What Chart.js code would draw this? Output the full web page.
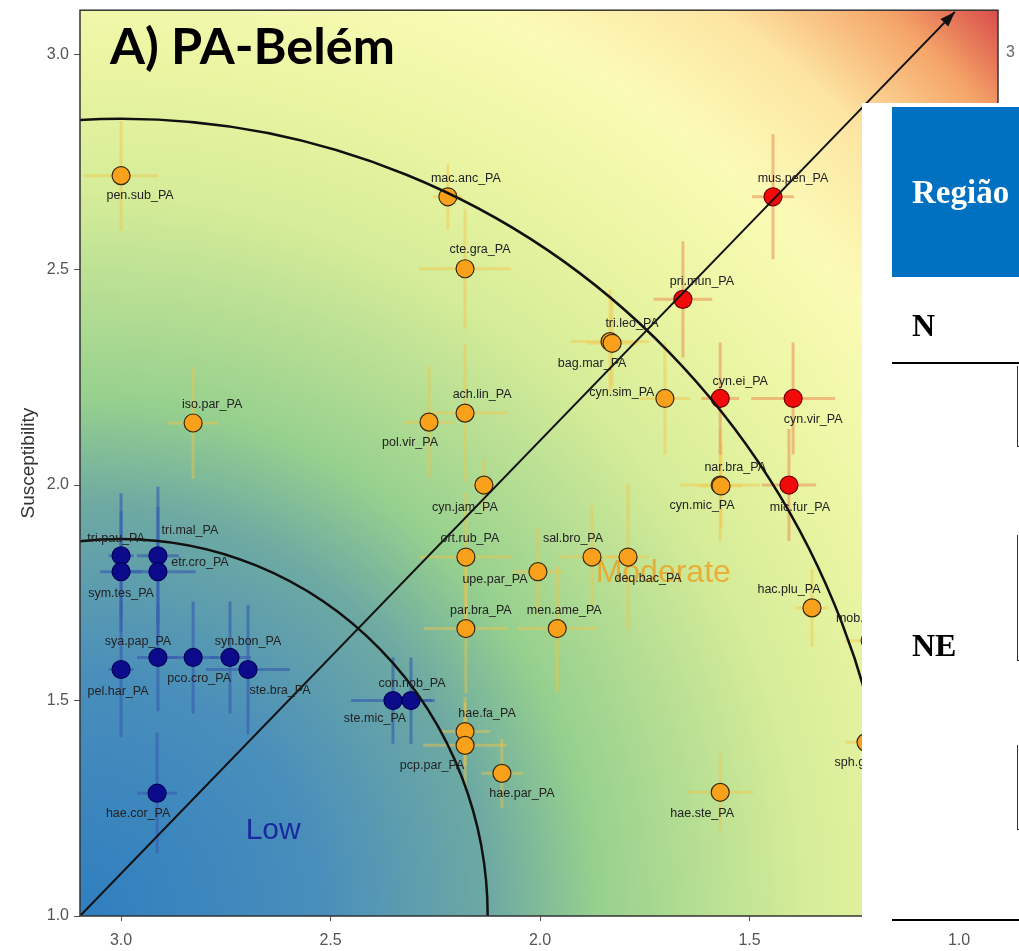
<!DOCTYPE html>
<html lang="pt">
<head>
<meta charset="UTF-8">
<title>A) PA-Belém</title>
<script src="https://cdn.jsdelivr.net/npm/chart.js@4"></script>
<style>
  body { margin: 0; background: #fff; }
  .wrap { position: relative; width: 1019px; height: 951px; overflow: hidden; }
  .tabela { position: absolute; left: 862px; top: 103px; width: 157px; height: 822px; background: #fff;
            font-family: "Liberation Serif", "Times New Roman", serif; font-weight: bold; color: #000; }
  .cab { position: absolute; left: 30px; top: 4px; width: 127px; height: 170px; background: #0070c0; color: #fff;
         font-size: 33px; line-height: 170px; padding-left: 20px; box-sizing: border-box; white-space: nowrap; }
  .cel { position: absolute; left: 50px; font-size: 32px; line-height: 32px; }
  .linha { position: absolute; left: 30px; width: 127px; height: 2px; background: #000; }
  .borda { position: absolute; left: 155px; width: 2px; border-left: 1.5px solid #333; border-bottom: 1.5px solid #333; }
  .resto { position: absolute; left: 1006px; top: 43px; font: 16px "Liberation Sans", Arial, sans-serif; color: #666; }
</style>
</head>
<body>
<div class="wrap">
  <canvas id="psa" width="1019" height="951"></canvas>
  <span class="resto">3</span>
  <div class="tabela">
    <div class="cab">Região</div>
    <div class="cel" style="top:206px">N</div>
    <div class="linha" style="top:259px"></div>
    <div class="borda" style="top:263px;height:80px"></div>
    <div class="borda" style="top:432px;height:125px"></div>
    <div class="borda" style="top:642px;height:84px"></div>
    <div class="cel" style="top:526px">NE</div>
    <div class="linha" style="top:816px"></div>
  </div>
</div>
<script>
// species, productivity (x, reversed axis), susceptibility (y), error half-widths, risk class
const especies = [
  'pen.sub_PA', 'mac.anc_PA', 'cte.gra_PA', 'tri.leo_PA', 'bag.mar_PA', 'cyn.sim_PA', 'ach.lin_PA',
  'pol.vir_PA', 'iso.par_PA', 'cyn.jam_PA', 'nar.bra_PA', 'cyn.mic_PA', 'ort.rub_PA', 'upe.par_PA',
  'sal.bro_PA', 'deq.bac_PA', 'par.bra_PA', 'men.ame_PA', 'hac.plu_PA', 'mob.bra_PA', 'sph.gui_PA',
  'hae.fa_PA', 'pcp.par_PA', 'hae.par_PA', 'hae.ste_PA',
  'mus.pen_PA', 'pri.mun_PA', 'cyn.ei_PA', 'cyn.vir_PA', 'mic.fur_PA',
  'tri.pau_PA', 'sym.tes_PA', 'tri.mal_PA', 'etr.cro_PA', 'sya.pap_PA', 'pel.har_PA', 'pco.cro_PA',
  'syn.bon_PA', 'ste.bra_PA', 'con.nob_PA', 'ste.mic_PA', 'hae.cor_PA'
];
const produtividade = [
  3.000, 2.220, 2.179, 1.833, 1.828, 1.702, 2.179,
  2.265, 2.828, 2.134, 1.570, 1.568, 2.177, 2.005,
  1.876, 1.790, 2.177, 1.959, 1.351, 1.212, 1.222,
  2.179, 2.179, 2.091, 1.570,
  1.444, 1.659, 1.570, 1.396, 1.406,
  3.000, 3.000, 2.912, 2.912, 2.912, 3.000, 2.828,
  2.740, 2.697, 2.308, 2.351, 2.914
];
const suscetibilidade = [
  2.718, 2.669, 2.502, 2.333, 2.329, 2.201, 2.167,
  2.146, 2.144, 2.000, 2.000, 1.998, 1.833, 1.799,
  1.833, 1.833, 1.667, 1.667, 1.715, 1.639, 1.403,
  1.428, 1.396, 1.331, 1.287,
  2.669, 2.431, 2.201, 2.201, 2.000,
  1.836, 1.799, 1.836, 1.799, 1.600, 1.572, 1.600,
  1.600, 1.572, 1.500, 1.500, 1.285
];
const erroProd = [
  0.088, 0.035, 0.110, 0.093, 0.060, 0.060, 0.100,
  0.060, 0.060, 0.030, 0.095, 0.050, 0.110, 0.060,
  0.080, 0.050, 0.100, 0.095, 0.040, 0.060, 0.050,
  0.060, 0.100, 0.050, 0.080,
  0.050, 0.070, 0.045, 0.100, 0.065,
  0.030, 0.050, 0.050, 0.090, 0.050, 0.030, 0.060,
  0.050, 0.100, 0.050, 0.100, 0.048
];
const erroSusc = [
  0.127, 0.075, 0.139, 0.120, 0.100, 0.130, 0.160,
  0.130, 0.130, 0.060, 0.130, 0.100, 0.150, 0.100,
  0.120, 0.170, 0.150, 0.145, 0.090, 0.100, 0.060,
  0.080, 0.100, 0.080, 0.090,
  0.145, 0.135, 0.130, 0.130, 0.130,
  0.145, 0.140, 0.160, 0.150, 0.125, 0.157, 0.130,
  0.130, 0.150, 0.100, 0.100, 0.140
];
const risco = [
  'M','M','M','M','M','M','M','M','M','M','M','M','M','M','M','M','M','M','M','M','M','M','M','M','M',
  'H','H','H','H','H',
  'L','L','L','L','L','L','L','L','L','L','L','L'
];
const xTicks = [1.0, 1.5, 2.0, 2.5, 3.0];
const yTicks = [1.0, 1.5, 2.0, 2.5, 3.0];

// label nudges in px (layout only)
const rotuloDx = [19,18,15,22,-20,-43,17,-19,19,-19,15,-19,4,-43,-19,20,15,7,-23,0,0,22,-33,20,-18,
                  20,19,20,20,11, -5,0,32,42,-20,-3,6,18,32,1,-18,-19];
const rotuloDy = [20,-18,-19,-18,20,-6,-19,20,-18,22,-18,20,-18,8,-18,22,-18,-18,-18,-22,20,-18,20,20,21,
                  -18,-18,-17,21,22, -17,22,-25,-9,-16,22,21,-16,21,-17,18,20];

const estilo = {
  L: { fill: '#0b0b8c', border: '#000058', bar: 'rgba(55,95,175,0.65)' },
  M: { fill: '#f9a11b', border: '#3a2a10', bar: 'rgba(245,195,70,0.45)' },
  H: { fill: '#f00a0a', border: '#700000', bar: 'rgba(235,150,90,0.6)' }
};

function serie(cls) {
  const pts = [];
  especies.forEach((s, i) => {
    if (risco[i] === cls) pts.push({ x: produtividade[i], y: suscetibilidade[i] });
  });
  return {
    data: pts, pointRadius: 9, pointHoverRadius: 9, borderWidth: 1.2,
    backgroundColor: estilo[cls].fill, borderColor: estilo[cls].border, showLine: false
  };
}

const gradStops = [
  [0, '#2f7ec0'], [0.19, '#4a8fbb'], [0.32, '#6eaaa2'], [0.40, '#96d08e'], [0.56, '#d5ec98'],
  [0.66, '#eaf5a2'], [0.77, '#fbfbb6'], [0.86, '#fde4a2'], [0.94, '#f5a468'], [1, '#d84c4a']
];

const fundo = {
  id: 'fundo',
  beforeDatasetsDraw(chart) {
    const { ctx, chartArea: a, scales: { x, y } } = chart;
    ctx.save();
    const R = Math.hypot(a.right - a.left, a.bottom - a.top);
    const g = ctx.createRadialGradient(a.left, a.bottom, 0, a.left, a.bottom, R);
    gradStops.forEach(s => g.addColorStop(s[0], s[1]));
    ctx.fillStyle = g;
    ctx.fillRect(a.left, a.top, a.right - a.left, a.bottom - a.top);

    ctx.beginPath();
    ctx.rect(a.left, a.top, a.right - a.left, a.bottom - a.top);
    ctx.clip();
    // error bars
    ctx.lineWidth = 3;
    especies.forEach((s, i) => {
      const px = x.getPixelForValue(produtividade[i]);
      const py = y.getPixelForValue(suscetibilidade[i]);
      ctx.strokeStyle = estilo[risco[i]].bar;
      ctx.beginPath();
      ctx.moveTo(x.getPixelForValue(produtividade[i] + erroProd[i]), py);
      ctx.lineTo(x.getPixelForValue(produtividade[i] - erroProd[i]), py);
      ctx.moveTo(px, y.getPixelForValue(suscetibilidade[i] + erroSusc[i]));
      ctx.lineTo(px, y.getPixelForValue(suscetibilidade[i] - erroSusc[i]));
      ctx.stroke();
    });
    // zone names
    ctx.textAlign = 'center';
    ctx.textBaseline = 'middle';
    ctx.font = '32px "Liberation Sans", Arial, sans-serif';
    ctx.fillStyle = 'rgba(238,160,30,0.8)';
    ctx.fillText('Moderate', x.getPixelForValue(1.706), y.getPixelForValue(1.796));
    ctx.font = '30px "Liberation Sans", Arial, sans-serif';
    ctx.fillStyle = '#1a2a9e';
    ctx.fillText('Low', x.getPixelForValue(2.637), y.getPixelForValue(1.199));
    ctx.restore();
  },
  afterDatasetsDraw(chart) {
    const { ctx, chartArea: a, scales: { x, y } } = chart;
    ctx.save();
    ctx.beginPath();
    ctx.rect(a.left, a.top, a.right - a.left, a.bottom - a.top);
    ctx.clip();
    // risk arcs centred on (3, 1)
    const cx = x.getPixelForValue(3), cy = y.getPixelForValue(1);
    ctx.strokeStyle = '#111';
    ctx.lineWidth = 2.5;
    [0.875, 1.85].forEach(r => {
      ctx.beginPath();
      ctx.ellipse(cx, cy, Math.abs(x.getPixelForValue(3 - r) - cx), Math.abs(y.getPixelForValue(1 + r) - cy), 0, 0, Math.PI * 2);
      ctx.stroke();
    });
    // diagonal arrow
    const x0 = x.getPixelForValue(3.098), y0 = y.getPixelForValue(1.0);
    const x1 = x.getPixelForValue(1.01), y1 = y.getPixelForValue(3.098);
    ctx.lineWidth = 2;
    ctx.beginPath(); ctx.moveTo(x0, y0); ctx.lineTo(x1, y1); ctx.stroke();
    const ang = Math.atan2(y1 - y0, x1 - x0);
    ctx.fillStyle = '#111';
    ctx.beginPath();
    ctx.moveTo(x1, y1);
    ctx.lineTo(x1 - 16 * Math.cos(ang - 0.35), y1 - 16 * Math.sin(ang - 0.35));
    ctx.lineTo(x1 - 16 * Math.cos(ang + 0.35), y1 - 16 * Math.sin(ang + 0.35));
    ctx.closePath(); ctx.fill();
    // point labels
    ctx.font = '12.5px "Liberation Sans", Arial, sans-serif';
    ctx.fillStyle = '#222';
    ctx.textAlign = 'center';
    ctx.textBaseline = 'middle';
    especies.forEach((s, i) => {
      ctx.fillText(s, x.getPixelForValue(produtividade[i]) + rotuloDx[i], y.getPixelForValue(suscetibilidade[i]) + rotuloDy[i]);
    });
    ctx.restore();
    // panel frame
    ctx.save();
    ctx.strokeStyle = '#333';
    ctx.lineWidth = 1.5;
    ctx.strokeRect(a.left, a.top, a.right - a.left, a.bottom - a.top);
    // panel title
    ctx.fillStyle = '#000';
    ctx.textAlign = 'left';
    ctx.textBaseline = 'alphabetic';
    ctx.font = 'bold 50px Lato, "Open Sans", sans-serif';
    const w = ctx.measureText('A) PA-Belém').width;
    ctx.font = 'bold ' + (50 * 285 / w).toFixed(1) + 'px Lato, "Open Sans", sans-serif';
    ctx.fillText('A) PA-Belém', 110, 64);
    ctx.restore();
  }
};

const fonteEixo = { family: '"Liberation Sans", Arial, sans-serif', size: 16 };

new Chart(document.getElementById('psa'), {
  type: 'scatter',
  data: { datasets: [serie('L'), serie('M'), serie('H')] },
  options: {
    responsive: false,
    animation: false,
    events: [],
    layout: { padding: { top: 0, right: 21, left: 0, bottom: 0 } },
    plugins: { legend: { display: false }, tooltip: { enabled: false } },
    scales: {
      x: {
        type: 'linear', reverse: true, min: 0.907, max: 3.098,
        afterBuildTicks: ax => { ax.ticks = xTicks.map(v => ({ value: v })); },
        afterFit: ax => { ax.height = 35; },
        grid: { drawOnChartArea: false, tickLength: 5, tickColor: '#555' },
        border: { display: false },
        ticks: { color: '#555', font: fonteEixo, padding: 10, maxRotation: 0, callback: v => Number(v).toFixed(1) }
      },
      y: {
        type: 'linear', min: 1.0, max: 3.102,
        afterBuildTicks: ax => { ax.ticks = yTicks.map(v => ({ value: v })); },
        afterFit: ax => { ax.width = 80; ax.paddingTop = 6; ax.paddingBottom = 0; },
        grid: { drawOnChartArea: false, tickLength: 6, tickColor: '#555' },
        border: { display: false },
        ticks: { color: '#555', font: fonteEixo, padding: 5, callback: v => Number(v).toFixed(1) },
        title: { display: true, text: 'Susceptibility', color: '#333',
                 font: { family: '"Liberation Sans", Arial, sans-serif', size: 19 }, padding: { top: 17, bottom: 0 } }
      }
    }
  },
  plugins: [fundo]
});
</script>
</body>
</html>
